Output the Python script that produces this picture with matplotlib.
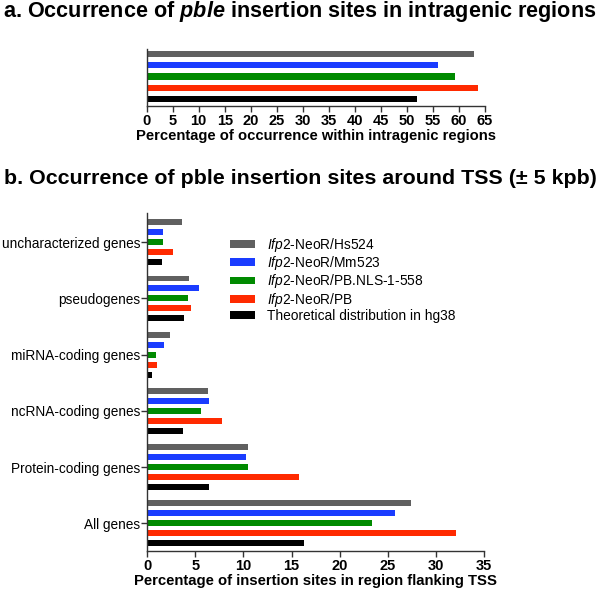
import numpy as np
import matplotlib
matplotlib.use("Agg")
import matplotlib.pyplot as plt

plt.rcParams['font.family'] = ['Liberation Sans', 'DejaVu Sans']
plt.rcParams['mathtext.fontset'] = 'custom'
plt.rcParams['mathtext.rm'] = 'Liberation Sans'
plt.rcParams['mathtext.it'] = 'Liberation Sans:italic'
plt.rcParams['mathtext.bf'] = 'Liberation Sans:bold'
plt.rcParams['mathtext.bfit'] = 'Liberation Sans:italic:bold'

# data
series = [r'$\mathit{Ifp2}$-NeoR/Hs524', r'$\mathit{Ifp2}$-NeoR/Mm523',
          r'$\mathit{Ifp2}$-NeoR/PB.NLS-1-558', r'$\mathit{Ifp2}$-NeoR/PB',
          'Theoretical distribution in hg38']
colors = ['#606060', '#1a3cff', '#008a00', '#ff2a00', '#000000']

intragenic = [62.8, 55.9, 59.3, 63.6, 51.9]

categories = ['uncharacterized genes', 'pseudogenes', 'miRNA-coding genes',
              'ncRNA-coding genes', 'Protein-coding genes', 'All genes']
hs524 = [3.6, 4.4, 2.35, 6.3, 10.5, 27.4]
mm523 = [1.65, 5.4, 1.75, 6.4, 10.3, 25.7]
pbnls = [1.7, 4.3, 0.97, 5.6, 10.5, 23.3]
pb = [2.7, 4.55, 1.0, 7.8, 15.8, 32.1]
hg38 = [1.6, 3.8, 0.55, 3.75, 6.4, 16.3]
tss = [hs524, mm523, pbnls, pb, hg38]

W, H = 600, 592
fig = plt.figure(figsize=(W / 100, H / 100), dpi=100)


def box(x0, y0, x1, y1):
    return [x0 / W, 1 - y1 / H, (x1 - x0) / W, (y1 - y0) / H]


def style(ax):
    for s in ['top', 'right']:
        ax.spines[s].set_visible(False)
    for s in ['left', 'bottom']:
        ax.spines[s].set_linewidth(1.0)
        ax.spines[s].set_color('#333333')
    ax.tick_params(axis='x', direction='out', length=4, width=1.0, color='#333333',
                   labelsize=10.5, pad=2)
    for lab in ax.get_xticklabels():
        lab.set_fontweight('bold')


# panel a
ax1 = fig.add_axes(box(146.7, 49.3, 485, 105.7))
ya = np.arange(len(intragenic))
ax1.barh(ya, intragenic, height=0.56, color=colors)
ax1.set_ylim(len(intragenic) - 1 + 0.6, -0.42)
ax1.set_xlim(0, 65)
ax1.set_xticks(np.arange(0, 66, 5))
ax1.set_yticks([])
style(ax1)
ax1.set_xlabel('Percentage of occurrence within intragenic regions',
               fontsize=10.6, fontweight='bold', labelpad=1)
fig.text(0.5, 1 - 12 / H, r'a. Occurrence of $\mathbfit{pble}$ insertion sites in intragenic regions',
         ha='center', va='center', fontsize=15.6, fontweight='bold')

# panel b
ax2 = fig.add_axes(box(147, 213, 484.3, 550.7))
gap = 5.646
centers = np.arange(len(categories)) * gap
for i, vals in enumerate(tss):
    ax2.barh(centers + (i - 2), vals, height=0.6, color=colors[i], label=series[i])
ax2.set_ylim(centers[-1] + 2 + 0.74, centers[0] - 2 - 0.93)
ax2.set_xlim(0, 35)
ax2.set_xticks(np.arange(0, 36, 5))
ax2.set_yticks(centers)
ax2.set_yticklabels(categories)
style(ax2)
ax2.tick_params(axis='y', direction='out', length=4, width=1.0, color='#333333',
                labelsize=9.8, pad=1)
ax2.set_xlabel('Percentage of insertion sites in region flanking TSS',
               fontsize=10.75, fontweight='bold', labelpad=1)
fig.text(0.5, 1 - 178 / H, 'b. Occurrence of pble insertion sites around TSS (\u00b1 5 kpb)',
         ha='center', va='center', fontsize=15.4, fontweight='bold')

leg = ax2.legend(loc='upper left', bbox_to_anchor=((230 - 147) / (484.3 - 147), 1 - (235.5 - 213) / 337.7),
                 frameon=False, fontsize=9.9, handlelength=1.8, handleheight=0.5,
                 handletextpad=0.9, labelspacing=0.03, borderpad=0, borderaxespad=0)

fig.savefig('out.png', dpi=100)
